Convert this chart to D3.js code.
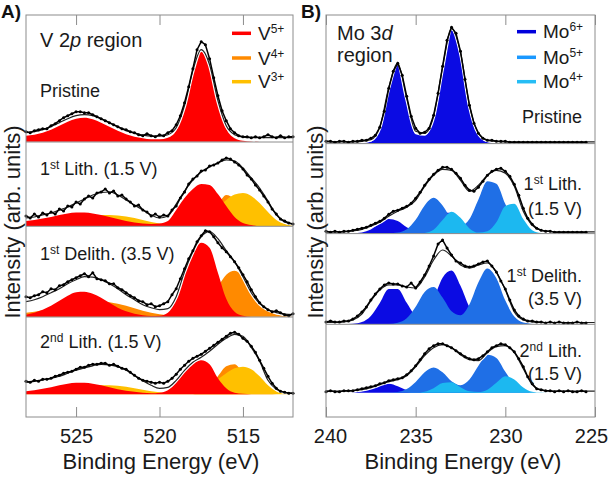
<!DOCTYPE html>
<html lang="en">
<head>
<meta charset="UTF-8">
<title>XPS V 2p / Mo 3d</title>
<script src="https://cdn.jsdelivr.net/npm/d3@7"></script>
<style>
  body { margin: 0; background: #fff; }
  svg { font-family: "Liberation Sans", Arial, sans-serif; }
  .frame { fill: none; stroke: #8c8c8c; stroke-width: 1; }
  .sep { stroke: #8c8c8c; stroke-width: 1; }
  .axis-tick line { stroke: #8c8c8c; }
  .axis-tick text { font-size: 20px; fill: #1a1a1a; }
  .fit-halo { fill: none; stroke: #fff; stroke-width: 3.5; }
  .fit { fill: none; stroke: #222; stroke-width: 1.2; }
  .data-line { fill: none; stroke: #000; stroke-width: 1.5; }
</style>
</head>
<body>
<script>
// energy grids (eV): fits/components every 0.5 eV, measured points every 0.25 eV
const eA = d3.range(33).map(i => 528 - i * 0.5);
const eAdata = d3.range(65).map(i => 528 - i * 0.25);
const eB = d3.range(31).map(i => 240 - i * 0.5);
const eBdata = d3.range(59).map(i => 240 - i * 0.25);

// ---- A) V 2p region (arb. units) ----
const vPristineData = [10,9,11,12,13,13,16,18,21,24, 26,28,30,30,29,29,27,25,23,21, 19,17,15,13,12,10,9,7,6,8,
  6,5,7,6,9,11,17,26,39,55, 73,92,100,97,83,64,46,31,21,13, 9,6,5,5,4,5,4,5,7,5, 4,6,4,5,5];
const vPristineFit = [9,10,12,15,19,23,26,27,26,23, 19,15,11,8.5,6.5,5.5,5.5,7,14,36, 71,92,77,41,16,7,4.5,4,4,4, 4,4,4];
const vPristineV5 = [6,7,9,12,16,20,23,24,22.5,19, 15,11,7.5,5,3.5,2.5,2.5,4,11,33, 68,90,74,38,13,3.5,1,0.3,0,0, 0,0,0];

const vLith1Data = [10,8,12,9,13,11,14,12,17,15, 20,19,24,22,27,30,28,33,34,37, 33,35,30,31,27,24,20,21,16,14,
  10,12,9,11,10,16,20,28,34,42, 47,50,55,56,60,61,63,66,68,67, 64,61,57,51,47,41,36,30,24,17, 12,7,5,3,2];
const vLith1Fit = [8,9,11,13,16,19,23,27,31,33.5, 34,31,26,21,16,11,8,10,22,35, 46,54,59,63,66,65,58,48,38,25, 11,4,2];
const vLith1V5 = [5,6,7.5,9,11,12.5,13.5,13.5,12.5,11, 9,7,5,3.5,2.5,2,2.5,5,16,28, 37,42,41,32,20,9,3,1,0,0, 0,0,0];
const vLith1V4 = [0,0,0,0,0,0,0,0,0,0, 0,0,0,0,0,0,0,0,0,0, 0.5,2,8,21,31,26,12,4,1,0, 0,0,0];
const vLith1V3 = [0.5,1,2,3.5,5,6.5,8,9.5,10.5,11, 11,10.5,9.5,8,6,4,2.5,1.5,1,1.5, 3,6,11,18,26,31.5,33,30,23,14, 6,2,0.5];

const vDelith1Data = [20,19,21,22,25,24,28,27,31,32, 35,37,39,41,43,40,44,38,37,36, 33,33,29,27,24,21,19,16,15,12,
  13,10,11,13,15,22,28,38,48,58, 66,75,81,86,85,80,74,69,65,60, 55,49,42,35,27,20,14,10,7,5, 6,4,2,1,3];
const vDelith1Fit = [15,17,20,24,28,33,37,40,39.5,37, 33,28,22,17,12,9,7,8,20,45, 65,80,85,78,66,55,40,24,13,7, 4,2.5,2];
const vDelith1V5 = [2,4,7,11,16,21,24.5,25,23,19, 14,9,5.5,3,1.5,0.8,1,4,18,46, 64,74,69,44,18,5,1,0,0,0, 0,0,0];
const vDelith1V4 = [4,5,6.5,8,10,12,13.5,14.5,15,15, 14.5,13,11,8.5,6,4,2.5,1.5,1,1, 3,8,17,30,42,46,40,27,15,6.5, 2.5,0.8,0.3];

const vLith2Data = [13,12,14,13,15,15,16,18,19,21, 22,23,25,27,27,29,30,30,31,31, 29,30,28,26,25,22,19,16,14,13,
  12,11,12,11,13,16,20,25,29,33, 36,38,40,43,46,49,52,55,58,61, 62,60,56,53,48,42,34,26,18,11, 6,3,2,1,1];
const vLith2Fit = [12,13,14.5,16,18,21,24,26.5,28.5,30, 29.5,27.5,24,19,13.5,9,6,7,14,24, 32,37,43,50,56,60,58,47,33,14, 5,2,1];
const vLith2V5 = [3,4,5.5,7,9,10.5,11.5,11.5,10.5,9, 7,5,3.5,2.5,1.5,1,1.5,4,12,24, 31,34,30,16,6,1.5,0.5,0,0,0, 0,0,0];
const vLith2V4 = [0,0,0,0,0,0,0,0,0,0, 0,0,0,0,0,0,0,0,0,0, 0,2,7,18,28,30,21,9,3,1, 0,0,0];
const vLith2V3 = [0.5,1,2,3,4.5,5.5,7,8,8.5,9, 9,8.5,7.5,6,4.5,3,2,1,1,1.5, 3,5,9,15,21,26,27.5,25,18,9, 3,0.8,0];

// ---- B) Mo 3d region (arb. units) ----
const moPristineData = [2,2,1,2,2,1,2,2,3,3, 5,8,16,32,55,72,80,68,47,27, 15,10,11,15,28,50,77,103,116,110,
  92,64,38,20,10,5,3,3,2,2, 2,1,1,1,1,1,1,1,1,1, 1,1,1,1,1,1,1,1,1];
const moPristineFit = [1.5,1.5,1.5,1.5,2,3.5,16,56,80,45, 12,10,27,76,115,91,38,10,3,2, 1.5,1.5,1.5,1.5,1.5,1.5,1.5,1.5,1.5,1.5, 1.5];
const moPristineMo6 = [0,0,0,0,0.2,1.5,14,54,78,43, 9,7.5,25,74,113,89,36,8,1,0.1, 0,0,0,0,0,0,0,0,0,0, 0];

const moLith1Data = [2,1,2,1,2,2,3,4,5,6, 8,10,12,15,19,22,23,25,27,30, 35,41,48,54,59,63,66,66,64,60,
  55,48,43,42,46,52,58,62,64,65, 62,57,49,38,25,15,9,5,3,2, 2,1,1,1,1,1,1,1,1];
const moLith1Fit = [1.5,1.5,1.5,2.5,4,7,11,17,22,26, 33,47,58,64,63,53,42,48,58,63, 60,47,22,8,3,2,1.5,1.5,1.5,1.5, 1.5];
const moLith1Mo6 = [0,0,0,0.1,0.9,3.9,9.8,14.3,12.2,6.1, 2.5,4.3,12,20.6,20.6,12,4,0.8,0.1,0, 0,0,0,0,0,0,0,0,0,0, 0];
const moLith1Mo5 = [0,0,0,0,0,0,0,0.1,0.8,4.1, 13.6,27.9,35.5,27.9,14.1,7.5,14.4,33.9,52,49.5, 29.2,10.7,2.4,0.3,0,0,0,0,0,0, 0];
const moLith1Mo4 = [0,0,0,0,0,0,0,0,0,0, 0,0.4,3.5,13.2,21.5,15.5,4.9,0.7,2,11, 27.3,29.6,14.2,3,0.25,0,0,0,0,0, 0];

const moDelith1Data = [2,3,2,2,3,3,5,8,12,17, 24,30,35,39,41,40,40,38,37,41, 36,42,49,58,68,80,84,76,69,63,
  61,58,57,58,60,62,63,58,52,43, 35,24,14,8,5,3,3,2,2,1, 2,1,2,1,1,1,2,1,1];
const moDelith1Fit = [1.5,1.5,2,4,10,23,34,39,39,37, 36,47,64,74,68,59,56,59,61,52, 34,12,4,2,1.5,1.5,1.5,1.5,1.5,1.5, 1.5];
const moDelith1Mo6 = [0,0,0,0.3,1.9,8,21,35,35,21.2, 9.7,10.2,25.1,46.3,53.5,38.2,16.9,4.6,0.8,0.1, 0,0,0,0,0,0,0,0,0,0, 0];
const moDelith1Mo5 = [0,0,0,0,0,0,0,0,1.2,5.7, 17.2,32,36.9,26.4,12.8,8.8,19.8,41.7,55.6,45.8, 23.4,7.4,1.4,0.2,0,0,0,0,0,0, 0];

const moLith2Data = [1,2,1,1,2,2,2,3,4,5, 6,7,9,10,12,13,14,15,18,22, 27,33,39,44,47,49,49,47,45,42,
  39,36,34,33,34,37,41,45,47,49, 48,45,41,34,26,16,9,4,3,2, 2,1,2,1,2,1,1,2,1];
const moLith2Fit = [1.5,1.5,1.5,2,3,5,8,11,13,17, 26,37,45,48,45,38,33,32,40,46, 47,40,24,8,2.5,1.5,1.5,1.5,1.5,1.5, 1.5];
const moLith2Mo6 = [0,0,0,0.3,1.4,4.1,7.7,8.9,6.4,2.8, 2.1,4.5,9.7,13,10.7,5.5,1.7,0.3,0,0, 0,0,0,0,0,0,0,0,0,0, 0];
const moLith2Mo5 = [0,0,0,0,0,0,0,0.1,0.8,3.7, 10.8,20.4,25.3,20.4,11.5,7.5,13.3,27,38,34.8, 20.9,8.1,2.1,0.2,0,0,0,0,0,0, 0];
const moLith2Mo4 = [0,0,0,0,0,0,0,0,0,0, 0.1,1,4.5,9.7,10.4,5.5,1.4,0.7,3,10, 16.5,13.3,5.3,1,0.1,0,0,0,0,0, 0];

// tick labels and legend entries
const ticksA = [525, 520, 515];
const ticksB = [240, 235, 230, 225];
const speciesV = ["V5+", "V4+", "V3+"];
const speciesMo = ["Mo6+", "Mo5+", "Mo4+"];

const colors = {
  "V5+": "#ff0000", "V4+": "#ff8a00", "V3+": "#ffc000",
  "Mo6+": "#0b0be3", "Mo5+": "#1f6fe6", "Mo4+": "#1cb8f0"
};
const legendColors = { "Mo6+": "#0000dc", "Mo5+": "#1a98ff", "Mo4+": "#26bdf5" };

const W = 610, H = 477;
const svg = d3.select("body").append("svg").attr("width", W).attr("height", H);

// text with superscript / italic pieces
function richText(g, x, y, parts, size, anchor) {
  const t = g.append("text")
    .attr("x", x).attr("y", y)
    .attr("font-size", size)
    .attr("fill", "#1a1a1a")
    .attr("text-anchor", anchor || "start");
  let shift = 0;
  parts.forEach(p => {
    const s = t.append("tspan").text(p.t);
    const want = p.sup ? -Math.round(size * 0.36) : 0;
    if (want !== shift) { s.attr("dy", want - shift); shift = want; }
    if (p.sup) s.attr("font-size", Math.round(size * 0.64));
    if (p.it) s.attr("font-style", "italic");
  });
  return t;
}

function drawPanel(cfg) {
  const g = svg.append("g");
  const x = d3.scaleLinear().domain(cfg.domain).range([cfg.left, cfg.right]);

  cfg.rows.forEach((row, ri) => {
    const y = d3.scaleLinear().domain([0, 100]).range([row.base, row.base - 100]);

    // component fills
    row.comps.forEach(([sp, vals]) => {
      const area = d3.area()
        .x((d, i) => x(cfg.e[i]))
        .y0(y(0))
        .y1(d => y(d))
        .curve(d3.curveMonotoneX);
      g.append("path").datum(vals).attr("d", area).attr("fill", colors[sp]);
    });

    // fit envelope
    const fitLine = d3.line().x((d, i) => x(cfg.e[i])).y(d => y(d)).curve(d3.curveMonotoneX);
    g.append("path").datum(row.fit).attr("class", "fit-halo").attr("d", fitLine);
    g.append("path").datum(row.fit).attr("class", "fit").attr("d", fitLine);

    // measured points
    const dataLine = d3.line().x((d, i) => x(cfg.eData[i])).y(d => y(d));
    g.append("path").datum(row.data).attr("class", "data-line").attr("d", dataLine);
    g.selectAll(null).data(row.data).enter().append("circle")
      .attr("cx", (d, i) => x(cfg.eData[i]))
      .attr("cy", d => y(d))
      .attr("r", 1.5)
      .attr("fill", "#000");

    // separator under stacked spectra
    if (ri < cfg.rows.length - 1) {
      g.append("line").attr("class", "sep")
        .attr("x1", cfg.left).attr("x2", cfg.right)
        .attr("y1", row.base + 0.3).attr("y2", row.base + 0.3);
    }
  });

  // frame + ticks
  g.append("rect").attr("class", "frame")
    .attr("x", cfg.left).attr("y", cfg.top)
    .attr("width", cfg.right - cfg.left).attr("height", cfg.bottom - cfg.top);

  const axB = d3.axisBottom(x).tickValues(cfg.ticks).tickSize(-10).tickPadding(12).tickFormat(d3.format("d"));
  g.append("g").attr("class", "axis-tick")
    .attr("transform", `translate(0,${cfg.bottom})`).call(axB)
    .call(s => s.select(".domain").remove())
    .call(s => s.selectAll(".tick text").attr("dx", d => (cfg.nudge && cfg.nudge[d]) || 0));
  const axT = d3.axisTop(x).tickValues(cfg.ticks).tickSize(-10).tickFormat("");
  g.append("g").attr("class", "axis-tick")
    .attr("transform", `translate(0,${cfg.top})`).call(axT)
    .call(s => s.select(".domain").remove());

  // axis labels
  g.append("text").attr("x", cfg.xLabelX).attr("y", 469)
    .attr("text-anchor", "middle").attr("font-size", 22).attr("fill", "#1a1a1a")
    .text("Binding Energy (eV)");
  g.append("text")
    .attr("transform", `translate(${cfg.yLabelX},222) rotate(-90)`)
    .attr("text-anchor", "middle").attr("font-size", 22).attr("fill", "#1a1a1a")
    .text("Intensity (arb. units)");

  // panel letter
  g.append("text").attr("x", cfg.letterX).attr("y", 18)
    .attr("font-size", 19).attr("font-weight", "bold").attr("fill", "#111")
    .text(cfg.letter);

  // legend
  cfg.species.forEach((sp, i) => {
    const ly = cfg.legendY[i];
    g.append("line")
      .attr("x1", cfg.legendX).attr("x2", cfg.legendX + 19)
      .attr("y1", ly).attr("y2", ly)
      .attr("stroke", (cfg.legendColors || colors)[sp] || colors[sp]).attr("stroke-width", 3.5);
    const m = sp.match(/^([A-Za-z]+)(.*)$/);
    richText(g, cfg.legendX + 26, ly + 6.5, [{ t: m[1] }, { t: m[2], sup: true }], 19);
  });

  return g;
}

const gA = drawPanel({
  letter: "A)", letterX: 1,
  domain: [528, 512], left: 26, right: 293, top: 15, bottom: 417,
  e: eA, eData: eAdata, ticks: ticksA,
  xLabelX: 161, yLabelX: 20,
  species: speciesV, legendX: 232, legendY: [33.3, 58, 81.7],
  rows: [
    { base: 141.7, data: vPristineData, fit: vPristineFit, comps: [["V5+", vPristineV5]] },
    { base: 226, data: vLith1Data, fit: vLith1Fit, comps: [["V4+", vLith1V4], ["V3+", vLith1V3], ["V5+", vLith1V5]] },
    { base: 316.7, data: vDelith1Data, fit: vDelith1Fit, comps: [["V4+", vDelith1V4], ["V5+", vDelith1V5]] },
    { base: 394.3, data: vLith2Data, fit: vLith2Fit, comps: [["V4+", vLith2V4], ["V3+", vLith2V3], ["V5+", vLith2V5]] }
  ]
});

const gB = drawPanel({
  letter: "B)", letterX: 301,
  domain: [240, 225], left: 326, right: 595, top: 15, bottom: 417,
  e: eB, eData: eBdata, ticks: ticksB, nudge: { 240: 4, 225: -4 },
  xLabelX: 463, yLabelX: 323,
  species: speciesMo, legendColors: legendColors, legendX: 517, legendY: [31.7, 57.3, 81.7],
  rows: [
    { base: 143.3, data: moPristineData, fit: moPristineFit, comps: [["Mo6+", moPristineMo6]] },
    { base: 233.3, data: moLith1Data, fit: moLith1Fit, comps: [["Mo6+", moLith1Mo6], ["Mo5+", moLith1Mo5], ["Mo4+", moLith1Mo4]] },
    { base: 324, data: moDelith1Data, fit: moDelith1Fit, comps: [["Mo6+", moDelith1Mo6], ["Mo5+", moDelith1Mo5]] },
    { base: 392.7, data: moLith2Data, fit: moLith2Fit, comps: [["Mo6+", moLith2Mo6], ["Mo5+", moLith2Mo5], ["Mo4+", moLith2Mo4]] }
  ]
});

// spectrum labels, panel A
richText(gA, 40, 47, [{ t: "V 2" }, { t: "p", it: true }, { t: " region" }], 20);
richText(gA, 40, 97, [{ t: "Pristine" }], 18);
richText(gA, 40, 175, [{ t: "1" }, { t: "st", sup: true }, { t: " Lith. (1.5 V)" }], 18);
richText(gA, 40, 260, [{ t: "1" }, { t: "st", sup: true }, { t: " Delith. (3.5 V)" }], 18);
richText(gA, 40, 348, [{ t: "2" }, { t: "nd", sup: true }, { t: " Lith. (1.5 V)" }], 18);

// spectrum labels, panel B
richText(gB, 337, 40, [{ t: "Mo 3" }, { t: "d", it: true }], 20);
richText(gB, 337, 62, [{ t: "region" }], 20);
richText(gB, 582, 123, [{ t: "Pristine" }], 18, "end");
richText(gB, 582, 190, [{ t: "1" }, { t: "st", sup: true }, { t: " Lith." }], 18, "end");
richText(gB, 582, 215, [{ t: "(1.5 V)" }], 18, "end");
richText(gB, 582, 282, [{ t: "1" }, { t: "st", sup: true }, { t: " Delith." }], 18, "end");
richText(gB, 582, 305, [{ t: "(3.5 V)" }], 18, "end");
richText(gB, 582, 357, [{ t: "2" }, { t: "nd", sup: true }, { t: " Lith." }], 18, "end");
richText(gB, 582, 380, [{ t: "(1.5 V)" }], 18, "end");
</script>
</body>
</html>
